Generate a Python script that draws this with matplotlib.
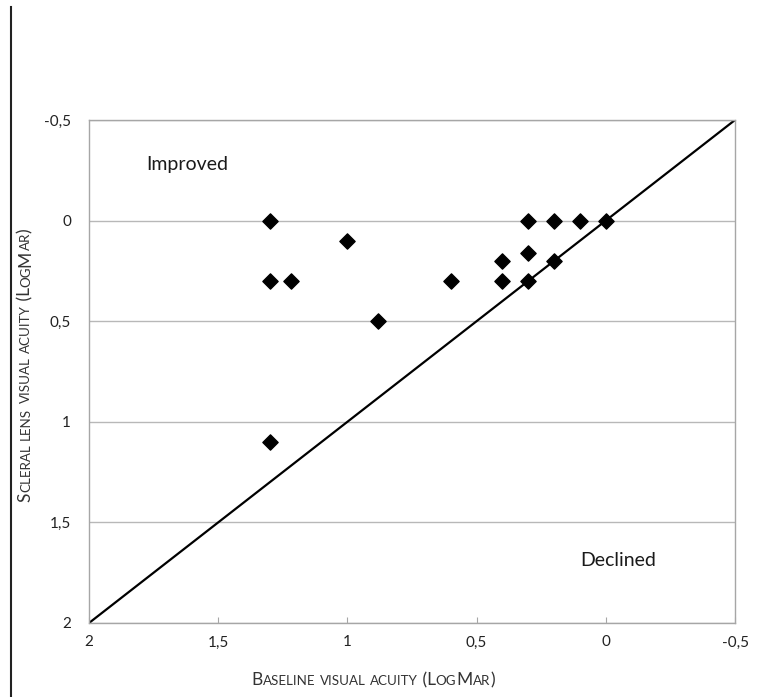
"""
Scleral lens vs baseline visual acuity (LogMAR) scatter, with line of equality.
"""

import matplotlib
matplotlib.use("Agg")
import matplotlib.pyplot as plt
from matplotlib.ticker import FuncFormatter

# === DATA ================================================================== #

baseline_va = [1.3, 1.3, 1.22, 1.0, 0.88, 0.6, 0.4, 0.4, 0.3, 0.3, 0.3,
               0.2, 0.2, 0.1, 0.0, 1.3]
scleral_va = [0.0, 0.3, 0.3, 0.1, 0.5, 0.3, 0.2, 0.3, 0.16, 0.0, 0.3,
              0.0, 0.2, 0.0, 0.0, 1.1]

axis_ticks = [2.0, 1.5, 1.0, 0.5, 0.0, -0.5]
equality_line = [2.0, -0.5]

x_label = "Baseline visual acuity (LogMar)"
y_label = "Scleral lens visual acuity (LogMar)"

FONT = "Lato"
W, H = 758, 697


def comma_fmt(v, _pos):
    s = f"{v:g}"
    return s.replace(".", ",")


def small_caps(fig, x_px, y_px, text, big=12.5, small=9.6, vertical=False,
               color="#333333"):
    """Fake small caps: uppercase letters big, lowercase letters as small capitals.
    Centred on (x_px, y_px) along the reading direction; y_px/x_px is the baseline."""
    # split into runs of same case
    runs = []
    for ch in text:
        is_small = ch.islower()
        if runs and runs[-1][1] == is_small:
            runs[-1][0] += ch
        else:
            runs.append([ch, is_small])

    renderer = fig.canvas.get_renderer()
    widths = []
    for chunk, is_small in runs:
        t = fig.text(0, 0, chunk.upper(), fontsize=small if is_small else big,
                     family=FONT)
        widths.append(t.get_window_extent(renderer).width)
        t.remove()

    total = sum(widths)
    pos = -total / 2
    for (chunk, is_small), w in zip(runs, widths):
        if vertical:
            px, py, rot = x_px, y_px - pos, 90
        else:
            px, py, rot = x_px + pos, y_px, 0
        fig.text(px / W, 1 - py / H, chunk.upper(),
                 fontsize=small if is_small else big, family=FONT,
                 color=color, rotation=rot, rotation_mode="anchor",
                 ha="left", va="baseline")
        pos += w


fig = plt.figure(figsize=(W / 100, H / 100), dpi=100)
ax = fig.add_axes([89 / W, 1 - 623 / H, 646 / W, 503 / H])

ax.plot(equality_line, equality_line, color="black", linewidth=1.6, zorder=2)
ax.scatter(baseline_va, scleral_va, marker="D", s=60, color="black", zorder=3)

ax.set_xlim(2.0, -0.5)
ax.set_ylim(2.0, -0.5)
ax.set_xticks(axis_ticks)
ax.set_yticks(axis_ticks)
ax.xaxis.set_major_formatter(FuncFormatter(comma_fmt))
ax.yaxis.set_major_formatter(FuncFormatter(comma_fmt))

ax.grid(axis="y", color="#b8b8b8", linewidth=1.0, zorder=0)
for side in ax.spines.values():
    side.set_color("#a6a6a6")
    side.set_linewidth(1.0)

ax.tick_params(axis="x", direction="in", length=4, color="#a6a6a6",
               labelsize=11, labelcolor="#222222", pad=9)
ax.tick_params(axis="y", length=0, labelsize=11, labelcolor="#222222", pad=13)
for lab in ax.get_xticklabels() + ax.get_yticklabels():
    lab.set_family(FONT)

ax.text(1.78, -0.28, "Improved", fontsize=14, family=FONT, color="#1a1a1a",
        va="center", ha="left")
ax.text(0.1, 1.69, "Declined", fontsize=14, family=FONT, color="#1a1a1a",
        va="center", ha="left")

small_caps(fig, 373, 685, x_label)
small_caps(fig, 30, 365, y_label, vertical=True)

# thin border line on the left of the page
fig.add_artist(plt.Line2D([11 / W, 11 / W], [1 - 7 / H, 0], color="#222222",
                          linewidth=1.5, transform=fig.transFigure))

fig.savefig("out.png", dpi=100)
